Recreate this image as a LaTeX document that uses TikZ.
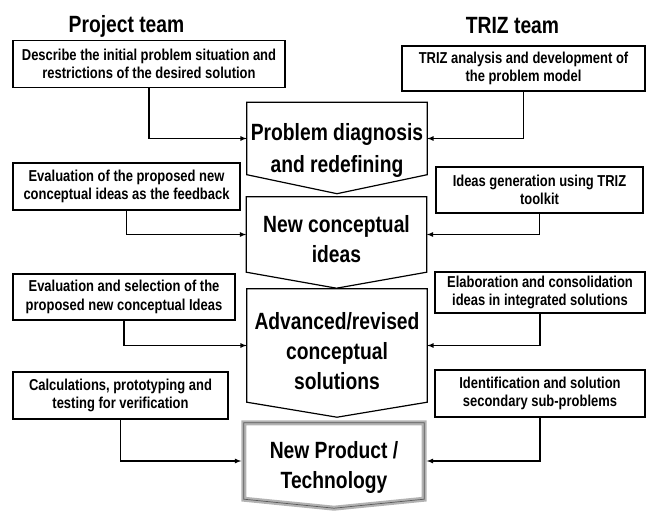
\documentclass[tikz,border=0pt]{standalone}
\usepackage{fontspec}
\setmainfont{Liberation Sans}
\newfontfamily\narrowsans[FakeStretch=0.82]{Liberation Sans}

\begin{document}
\begin{tikzpicture}[x=1pt, y=-1pt,
  team/.style={font=\narrowsans\bfseries\fontsize{23.5}{28}\selectfont},
  task/.style={draw, line width=1.2pt, inner sep=0pt, align=center, font=\narrowsans\bfseries\fontsize{15.8}{18.5}\selectfont},
  stage/.style={minimum width=180pt, inner sep=0pt},
  stagetext/.style={inner sep=0pt, align=center, font=\narrowsans\bfseries\fontsize{23.5}{30}\selectfont},
  feed/.style={-latex, line width=1.2pt}]
  \useasboundingbox (0,0) rectangle (651,511);

  \node[team] (project) at (126.5,26) {Project team};
  \node[team] (triz) at (512.5,26) {TRIZ team};

  \node[task, minimum width=272pt, minimum height=47pt] (describe) at (149,64)
    {Describe the initial problem situation and\\restrictions of the desired solution};
  \node[task, minimum width=243pt, minimum height=45pt] (analysis) at (523.5,68.5)
    {TRIZ analysis and development of\\the problem model};
  \node[task, minimum width=227pt, minimum height=47pt] (feedback) at (126.5,186.5)
    {Evaluation of the proposed new\\conceptual ideas as the feedback};
  \node[task, minimum width=207pt, minimum height=46pt] (generation) at (539.5,190)
    {Ideas generation using TRIZ\\toolkit};
  \node[task, minimum width=222pt, minimum height=46pt] (selection) at (124,297)
    {Evaluation and selection of the\\proposed new conceptual Ideas};
  \node[task, minimum width=210pt, minimum height=41pt] (elaboration) at (540,292.5)
    {Elaboration and consolidation\\ideas in integrated solutions};
  \node[task, minimum width=215pt, minimum height=47pt] (verification) at (120.5,395.5)
    {Calculations, prototyping and\\testing for verification};
  \node[task, minimum width=210pt, minimum height=47pt] (subproblems) at (540,393.5)
    {Identification and solution\\secondary sub-problems};

  \node[stage, minimum height=72pt] (diagnosis) at (337,138.5) {};
  \node[stage, minimum height=75pt] (ideas) at (336.5,234.5) {};
  \node[stage, minimum height=113pt] (solutions) at (337,345.5) {};
  \node[stage, minimum height=76pt] (product) at (334,461) {};

  \node[stagetext, yshift=-11.5pt] (diagnosis-text) at (diagnosis) {Problem diagnosis\\[2pt]and redefining};
  \node[stagetext, yshift=-4.5pt] (ideas-text) at (ideas) {New conceptual\\ideas};
  \node[stagetext, yshift=-6pt] (solutions-text) at (solutions) {Advanced/revised\\conceptual\\solutions};
  \node[stagetext, yshift=-6pt] (product-text) at (product) {New Product /\\Technology};

  \draw[line width=1.2pt] (diagnosis.north west) -- (diagnosis.north east) -- (diagnosis.south east)
    -- ([yshift=-19pt]diagnosis.south) -- (diagnosis.south west) -- cycle;
  \draw[line width=1.2pt] (ideas.north west) -- (ideas.north east) -- (ideas.south east)
    -- ([yshift=-16pt]ideas.south) -- (ideas.south west) -- cycle;
  \draw[line width=1.2pt] (solutions.north west) -- (solutions.north east) -- (solutions.south east)
    -- ([yshift=-15pt]solutions.south) -- (solutions.south west) -- cycle;
  \draw[gray!60, line width=5pt] (product.north west) -- (product.north east) -- (product.south east)
    -- ([yshift=-9pt]product.south) -- (product.south west) -- cycle;
  \draw[black!65, line width=0.7pt] (product.north west) -- (product.north east) -- (product.south east)
    -- ([yshift=-9pt]product.south) -- (product.south west) -- cycle;

  \draw[feed] (describe.south) |- (diagnosis.west);
  \draw[feed] (analysis.south) |- (diagnosis.east);
  \draw[feed] (feedback.south) |- (ideas.west);
  \draw[feed] (generation.south) |- (ideas.east);
  \draw[feed] (selection.south) |- (solutions.west);
  \draw[feed] (elaboration.south) |- (solutions.east);
  \draw[feed, shorten >=2.5pt] (verification.south) |- (product.west);
  \draw[feed, shorten >=2.5pt] (subproblems.south) |- (product.east);
\end{tikzpicture}
\end{document}
